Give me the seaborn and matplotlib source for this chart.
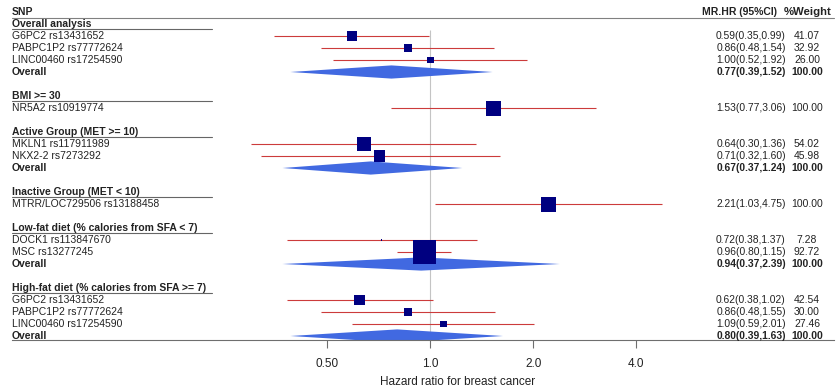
import numpy as np
import pandas as pd
import seaborn as sns
import matplotlib.pyplot as plt
from matplotlib import transforms
from matplotlib.ticker import NullLocator

nan = np.nan

# rows of the table (header row "SNP" is row 0)
labels = ["Overall analysis", "G6PC2 rs13431652", "PABPC1P2 rs77772624", "LINC00460 rs17254590", "Overall", "",
          "BMI >= 30", "NR5A2 rs10919774", "",
          "Active Group (MET >= 10)", "MKLN1 rs117911989", "NKX2-2 rs7273292", "Overall", "",
          "Inactive Group (MET < 10)", "MTRR/LOC729506 rs13188458", "",
          "Low-fat diet (% calories from SFA < 7)", "DOCK1 rs113847670", "MSC rs13277245", "Overall", "",
          "High-fat diet (% calories from SFA >= 7)", "G6PC2 rs13431652", "PABPC1P2 rs77772624",
          "LINC00460 rs17254590", "Overall"]
kinds = ["group", "snp", "snp", "snp", "overall", "",
         "group", "snp", "",
         "group", "snp", "snp", "overall", "",
         "group", "snp", "",
         "group", "snp", "snp", "overall", "",
         "group", "snp", "snp", "snp", "overall"]
hr = [nan, 0.59, 0.86, 1.00, 0.77, nan, nan, 1.53, nan, nan, 0.64, 0.71, 0.67, nan,
      nan, 2.21, nan, nan, 0.72, 0.96, 0.94, nan, nan, 0.62, 0.86, 1.09, 0.80]
ci_low = [nan, 0.35, 0.48, 0.52, 0.39, nan, nan, 0.77, nan, nan, 0.30, 0.32, 0.37, nan,
          nan, 1.03, nan, nan, 0.38, 0.80, 0.37, nan, nan, 0.38, 0.48, 0.59, 0.39]
ci_high = [nan, 0.99, 1.54, 1.92, 1.52, nan, nan, 3.06, nan, nan, 1.36, 1.60, 1.24, nan,
           nan, 4.75, nan, nan, 1.37, 1.15, 2.39, nan, nan, 1.02, 1.55, 2.01, 1.63]
weight = [nan, 41.07, 32.92, 26.00, 100.00, nan, nan, 100.00, nan, nan, 54.02, 45.98, 100.00, nan,
          nan, 100.00, nan, nan, 7.28, 92.72, 100.00, nan, nan, 42.54, 30.00, 27.46, 100.00]

xticks = [0.5, 1, 2, 4]
xtick_labels = ["0.50", "1.0", "2.0", "4.0"]

df = pd.DataFrame({"label": labels, "kind": kinds, "hr": hr, "lo": ci_low, "hi": ci_high, "weight": weight})
df["row"] = np.arange(1, len(df) + 1)

sns.set_style("white")
plt.rcParams["font.family"] = ["Liberation Sans", "DejaVu Sans"]

W, H = 836, 388
fig = plt.figure(figsize=(W / 100, H / 100), dpi=100)
ax = fig.add_axes([12 / W, 48 / H, 822 / W, 340 / H])
ax.set_xscale("log", base=2)
x_one, per_doubling = 430.3, 103.0
ax.set_xlim(2 ** ((12 - x_one) / per_doubling), 2 ** ((834 - x_one) / per_doubling))
ymax = 27 + 4 / 12
ax.set_ylim(ymax, -1)

# reference line at HR = 1
ax.vlines(1, 1.5, ymax, color="#c4c4c4", lw=0.8, zorder=1)

snps = df[df.kind == "snp"]
ax.hlines(snps.row, snps.lo, snps.hi, color="#cc3b3b", lw=0.8, zorder=2)
# box area follows the weight (single-SNP rows drawn at a fixed size)
side_px = np.where(snps.weight >= 100, 15, 0.25 * snps.weight)
area = (side_px * 0.72) ** 2
sns.scatterplot(x=snps.hr.values, y=snps.row.values, size=area, sizes=(0, 300), size_norm=(0, 300),
                marker="s", color="#000080", linewidth=0, legend=False, ax=ax, zorder=3)

for _, r in df[df.kind == "overall"].iterrows():
    ax.fill([r.lo, r.hr, r.hi, r.hr], [r.row, r.row - 0.55, r.row, r.row + 0.55],
            color="#4169e1", lw=0, zorder=2)

for s in ["top", "left", "right"]:
    ax.spines[s].set_visible(False)
ax.spines["bottom"].set_color("#6e6e6e")
ax.spines["bottom"].set_linewidth(0.8)
ax.set_xticks(xticks)
ax.set_xticklabels(xtick_labels)
ax.xaxis.set_minor_locator(NullLocator())
ax.tick_params(axis="x", bottom=True, length=5.8, width=0.8, color="#6e6e6e",
               labelsize=8.5, pad=7.5, labelcolor="#222222")
ax.set_yticks([])
ax.set_ylabel("")
ax.set_xlabel("Hazard ratio for breast cancer", fontsize=8.5, color="#222222")
ax.xaxis.set_label_coords((458 - 12) / 822, -(376 - 340) / 340)

# table text
trans = transforms.blended_transform_factory(fig.transFigure, ax.transData)
fs = 7.5
tc = "#222222"
ax.text(12 / W, 0, "SNP", transform=trans, fontsize=fs, fontweight="bold", va="center", color=tc)
ax.text(740 / W, 0, "MR.HR (95%CI)", transform=trans, fontsize=fs, fontweight="bold",
        ha="center", va="center", color=tc)
ax.text(808 / W, 0, "%Weight", transform=trans, fontsize=8.2, fontweight="bold",
        ha="center", va="center", color=tc)
ax.plot([12 / W, 834 / W], [0.53, 0.53], transform=trans, color="#808080", lw=0.8, clip_on=False)

for _, r in df.iterrows():
    if r.kind == "":
        continue
    bold = r.kind in ("group", "overall")
    ax.text(12 / W, r.row, r.label, transform=trans, fontsize=fs,
            fontweight="bold" if bold else "normal", va="center", color=tc)
    if r.kind == "group":
        ax.plot([12 / W, 212 / W], [r.row + 0.45, r.row + 0.45], transform=trans,
                color="#666666", lw=0.8, clip_on=False)
    else:
        ax.text(751 / W, r.row, f"{r.hr:.2f}({r.lo:.2f},{r.hi:.2f})", transform=trans,
                fontsize=7.4, fontweight="bold" if bold else "normal", ha="center", va="center", color=tc)
        ax.text(807 / W, r.row, f"{r.weight:.2f}", transform=trans, fontsize=fs,
                fontweight="bold" if bold else "normal", ha="center", va="center", color=tc)

fig.savefig("out.png", dpi=100)
